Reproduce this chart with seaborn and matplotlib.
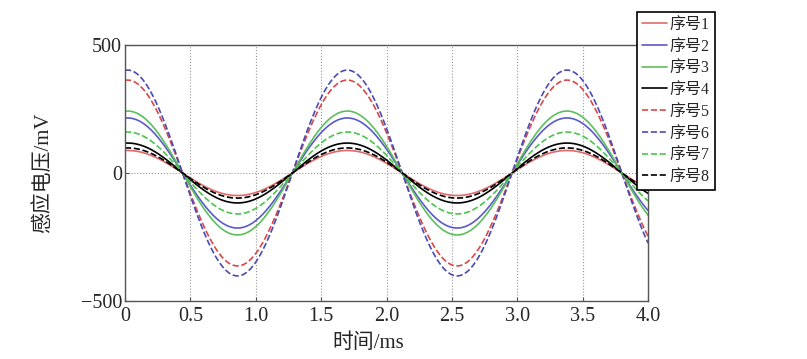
import matplotlib
matplotlib.use("Agg")
import matplotlib.pyplot as plt
import numpy as np
import pandas as pd
import seaborn as sns

# Values
series_names = ["序号1", "序号2", "序号3", "序号4", "序号5", "序号6", "序号7", "序号8"]
amplitudes_mv = [88, 215, 242, 117, 363, 402, 160, 98]  # peak voltage of each sinusoid
period_ms = 1.68       # time between successive peaks
first_peak_ms = 0.02   # time of the first peak
t_end_ms = 4.0

colors = ["#e06a6a", "#5a5ac8", "#5cbf5c", "#000000",
          "#d84848", "#4a4ab8", "#4cc44c", "#000000"]
styles = ["-", "-", "-", "-", "--", "--", "--", "--"]

sns.set_style("ticks")
plt.rcParams["font.family"] = ["Liberation Serif", "Noto Sans CJK SC"]
plt.rcParams["axes.unicode_minus"] = True

t = np.linspace(0, t_end_ms, 800)
rows = []
for name, amp in zip(series_names, amplitudes_mv):
    v = amp * np.cos(2 * np.pi * (t - first_peak_ms) / period_ms)
    rows.append(pd.DataFrame({"time": t, "voltage": v, "series": name}))
df = pd.concat(rows, ignore_index=True)

fig = plt.figure(figsize=(8.07, 3.59), dpi=100)
ax = fig.add_axes([125 / 807, 58 / 359, 523 / 807, 256 / 359])

for name, col, ls in zip(series_names, colors, styles):
    sns.lineplot(data=df[df["series"] == name], x="time", y="voltage",
                 color=col, linestyle=ls, linewidth=1.2, ax=ax, label=name,
                 dashes=False)

ax.set_xlim(0, 4.0)
ax.set_ylim(-500, 500)
ax.set_xticks(np.arange(0, 4.01, 0.5))
ax.set_xticklabels(["0", "0.5", "1.0", "1.5", "2.0", "2.5", "3.0", "3.5", "4.0"])
ax.set_yticks([-500, 0, 500])
ax.set_yticklabels(["\u2212500", "0", "500"])
ax.tick_params(direction="in", labelsize=14.5, length=3, color="#555555")
ax.tick_params(axis="x", pad=4)
ax.tick_params(axis="y", pad=2)
ax.grid(True, linestyle=":", color="#999999", linewidth=0.8)
for sp in ax.spines.values():
    sp.set_visible(True)
    sp.set_color("#555555")
    sp.set_linewidth(1.0)

ax.set_xlabel("时间/ms", fontsize=15)
ax.set_ylabel("感应电压/mV", fontsize=15)
ax.xaxis.set_label_coords((368 - 125) / 523, -0.125)
ax.yaxis.set_label_coords(-0.138, 0.5)

ax.get_legend().remove()
handles, labels = ax.get_legend_handles_labels()
leg = fig.legend(handles, labels, loc="upper left",
                 bbox_to_anchor=(637 / 807, 1 - 12 / 359),
                 fontsize=11.5, frameon=True, fancybox=False,
                 handlelength=1.6, handletextpad=0.15, labelspacing=0.36,
                 borderpad=0.3, borderaxespad=0)
leg.get_frame().set_edgecolor("black")
leg.get_frame().set_linewidth(1.2)
leg.get_frame().set_alpha(1)

fig.savefig("out.png", dpi=100)
